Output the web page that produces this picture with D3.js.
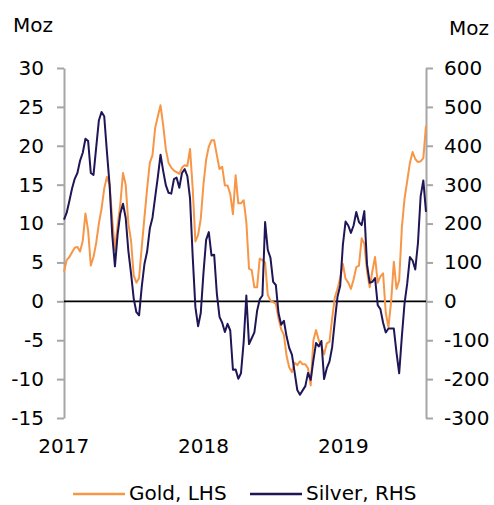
<!DOCTYPE html>
<html>
<head>
<meta charset="utf-8">
<script src="https://cdn.jsdelivr.net/npm/d3@7"></script>
<style>
  body { margin: 0; background: #fff; }
  text { font-family: "DejaVu Sans", sans-serif; }
</style>
</head>
<body>
<div id="chart"></div>
<script>
// weekly positioning data, first week 3 Jan 2017
var firstWeek = new Date(2017, 0, 3);

// Gold, Moz (left axis)
var gold = [3.8, 5.3, 5.7, 6.3, 6.9, 7.0, 6.4, 7.8, 11.3, 9.1,
  4.6, 5.7, 7.5, 10.0, 11.9, 14.5, 16.0, 15.0, 10.5, 6.6,
  9.8, 12.5, 16.5, 15.0, 10.0, 7.8, 3.3, 2.4, 3.0, 7.0,
  10.8, 14.5, 17.8, 18.8, 22.3, 23.8, 25.2, 22.6, 19.5, 17.8,
  17.2, 16.8, 16.6, 16.4, 17.2, 17.5, 17.4, 19.6, 14.5, 7.7,
  8.5, 10.6, 15.0, 18.2, 19.9, 20.7, 20.7, 18.8, 17.0, 17.3,
  14.9, 14.9, 13.8, 11.2, 16.2, 12.6, 12.6, 13.0, 10.2, 4.2,
  4.0, 1.8, 1.8, 5.5, 5.3, 5.0, 0.8, 0.1, -0.1, -0.3,
  -2.2, -3.6, -4.3, -7.0, -8.5, -9.1, -7.9, -8.2, -7.7, -8.1,
  -8.1, -8.6, -10.8, -5.0, -3.7, -5.0, -5.8, -6.8, -5.4, -5.2,
  -2.2, 0.5, 1.6, 3.0, 4.8, 2.9, 2.4, 1.6, 2.8, 4.4,
  4.6, 8.1, 7.4, 3.9, 1.8, 3.9, 5.7, 2.4, 3.2, 3.6,
  -1.5, -3.3, 0.0, 5.1, 1.6, 2.7, 9.5, 13.2, 15.5, 17.8,
  19.2, 18.3, 17.9, 18.0, 18.4, 22.6];

// Silver, Moz (right axis)
var silver = [210, 228, 258, 290, 315, 330, 362, 382, 418, 412,
  330, 325, 395, 465, 487, 476, 385, 300, 170, 90,
  172, 226, 251, 215, 130, 72, 7, -28, -36, 38,
  96, 128, 187, 215, 268, 320, 377, 335, 298, 279,
  277, 314, 318, 292, 330, 340, 322, 265, 115, -15,
  -64, -30, 72, 158, 178, 118, 120, 20, -40, -55,
  -79, -58, -75, -176, -175, -199, -185, -105, 15, -110,
  -95, -80, -25, 5, 15, 204, 132, 112, 50, 42,
  -30, -60, -50, -90, -120, -137, -182, -228, -240, -229,
  -218, -184, -202, -152, -107, -116, -102, -200, -172, -155,
  -118, -50, 12, 40, 145, 205, 195, 176, 195, 230,
  204, 196, 232, 95, 48, 50, 60, -10, -20, -55,
  -80, -70, -70, -70, -132, -185, -90, -5, 46, 114,
  105, 82, 150, 270, 311, 230];

var leftTicks = [-15, -10, -5, 0, 5, 10, 15, 20, 25, 30];
var rightTicks = [-300, -200, -100, 0, 100, 200, 300, 400, 500, 600];
var yearTicks = [2017, 2018, 2019];

var W = 494, H = 505;
var plotLeft = 64, plotRight = 426, plotTop = 68, plotBottom = 418;

var dates = gold.map(function (d, i) { return d3.timeDay.offset(firstWeek, 7 * i); });

var svg = d3.select("#chart").append("svg")
  .attr("width", W)
  .attr("height", H);

var x = d3.scaleTime()
  .domain([dates[0], dates[dates.length - 1]])
  .range([plotLeft, plotRight]);
var yL = d3.scaleLinear().domain([-15, 30]).range([plotBottom, plotTop]);
var yR = d3.scaleLinear().domain([-300, 600]).range([plotBottom, plotTop]);

function styleAxis(g) {
  g.select(".domain").attr("stroke", "#a6a6a6").attr("stroke-width", 2);
  g.selectAll(".tick line").attr("stroke", "#a6a6a6").attr("stroke-width", 2);
  g.selectAll("text").attr("fill", "#000").style("font-size", "20px")
    .style("font-family", "'DejaVu Sans', sans-serif");
}

// left axis
svg.append("g")
  .attr("transform", "translate(" + plotLeft + ",0)")
  .call(d3.axisLeft(yL).tickValues(leftTicks).tickSize(7).tickSizeOuter(0)
    .tickPadding(13).tickFormat(function (d) { return String(d); }))
  .call(styleAxis);

// right axis
svg.append("g")
  .attr("transform", "translate(" + plotRight + ",0)")
  .call(d3.axisRight(yR).tickValues(rightTicks).tickSize(7).tickSizeOuter(0)
    .tickPadding(11).tickFormat(function (d) { return String(d); }))
  .call(styleAxis);

// year labels
var xAxis = svg.append("g")
  .attr("transform", "translate(0," + plotBottom + ")")
  .call(d3.axisBottom(x)
    .tickValues(yearTicks.map(function (y) { return new Date(y, 0, 1); }))
    .tickSize(0).tickPadding(21)
    .tickFormat(d3.timeFormat("%Y")))
  .call(styleAxis);
xAxis.select(".domain").remove();

// zero line
svg.append("line")
  .attr("x1", plotLeft).attr("x2", plotRight)
  .attr("y1", yL(0)).attr("y2", yL(0))
  .attr("stroke", "#000").attr("stroke-width", 1.6);

var goldColor = "#F79646", silverColor = "#1E1656";

var lineL = d3.line()
  .x(function (d, i) { return x(dates[i]); })
  .y(function (d) { return yL(d); });
var lineR = d3.line()
  .x(function (d, i) { return x(dates[i]); })
  .y(function (d) { return yR(d); });

svg.append("path").datum(gold)
  .attr("d", lineL).attr("fill", "none")
  .attr("stroke", goldColor).attr("stroke-width", 2)
  .attr("stroke-linejoin", "round");

svg.append("path").datum(silver)
  .attr("d", lineR).attr("fill", "none")
  .attr("stroke", silverColor).attr("stroke-width", 2)
  .attr("stroke-linejoin", "round");

// units
svg.append("text").attr("x", 13).attr("y", 32)
  .style("font-size", "20px").text("Moz");
svg.append("text").attr("x", 449).attr("y", 35)
  .style("font-size", "20px").text("Moz");

// legend
var legend = [
  { name: "Gold, LHS", color: goldColor, x: 73 },
  { name: "Silver, RHS", color: silverColor, x: 250 }
];
var lg = svg.selectAll(".legend").data(legend).enter().append("g");
lg.append("line")
  .attr("x1", function (d) { return d.x; })
  .attr("x2", function (d) { return d.x + 52; })
  .attr("y1", 494).attr("y2", 494)
  .attr("stroke", function (d) { return d.color; })
  .attr("stroke-width", 2.5);
lg.append("text")
  .attr("x", function (d) { return d.x + 56; })
  .attr("y", 493).attr("dy", "0.36em")
  .style("font-size", "20px")
  .text(function (d) { return d.name; });
</script>
</body>
</html>
